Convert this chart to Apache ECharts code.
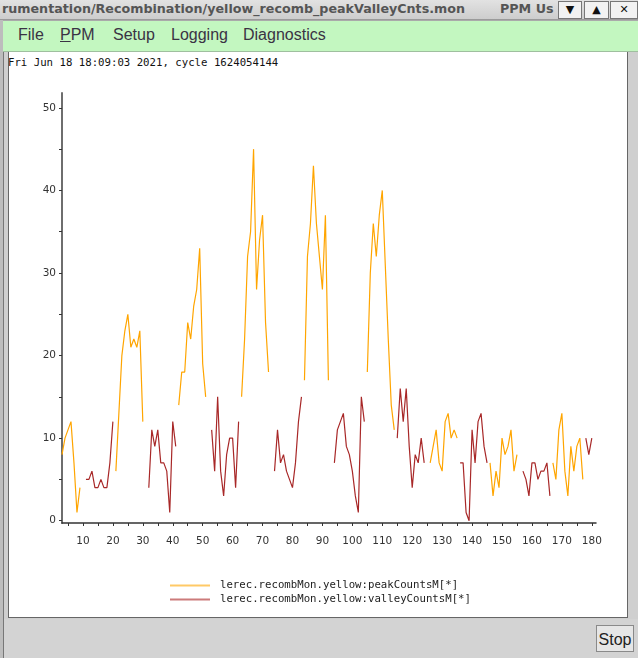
<!DOCTYPE html>
<html>
<head>
<meta charset="utf-8">
<script src="https://cdn.jsdelivr.net/npm/echarts@6/dist/echarts.min.js"></script>
<style>
  html, body { margin: 0; padding: 0; }
  body { width: 638px; height: 658px; position: relative; overflow: hidden; background: #cfcfcf; }
  .abs { position: absolute; }
  #titlebar { left: 0; top: 0; width: 638px; height: 19px; background: linear-gradient(#e2e2e2, #cdcdcd); border-bottom: 1px solid #9a9a9a; overflow: hidden; }
  #title { left: 2px; top: 1px; font: bold 12.7px "DejaVu Sans"; color: #555; white-space: nowrap; }
  #ppmus { left: 500px; top: 1px; font: bold 12.7px "DejaVu Sans"; color: #555; white-space: nowrap; }
  .wbtn { top: 1px; height: 16px; background: #f2f2f2; border: 1px solid #777; font: bold 11px "DejaVu Sans"; color: #111; text-align: center; line-height: 16px; }
  #menubar { left: 3px; top: 20px; width: 635px; height: 30px; background: #c3f7c0; border-top: 1px solid #aaa; border-bottom: 1px solid #9fbf9f; }
  .menu { top: 26px; font: 16px "Liberation Sans"; color: #3a3344; white-space: nowrap; }
  #leftframe { left: 0; top: 20px; width: 3px; height: 638px; background: #bdbdbd; border-right: 1px solid #777; }
  #content { left: 8px; top: 52px; width: 620px; height: 566px; background: #fff; border-left: 1px solid #666; border-right: 1px solid #666; border-bottom: 1px solid #666; box-sizing: border-box; }
  #stamp { left: 8px; top: 56px; font: 10.7px "DejaVu Sans Mono"; color: #111; white-space: nowrap; }
  #bottombar { left: 4px; top: 619px; width: 634px; height: 39px; background: #d3d3d3; }
  #stop { left: 596px; top: 625px; width: 38px; height: 27px; background: #e6e6e6; border: 1px solid #8a8a8a; font: 16px "Liberation Sans"; color: #222; text-align: center; line-height: 27px; box-sizing: border-box; }
  #chart { left: 0; top: 0; width: 638px; height: 658px; }
</style>
</head>
<body>
<div id="leftframe" class="abs"></div>
<div id="titlebar" class="abs">
  <div id="title" class="abs">rumentation/Recombination/yellow_recomb_peakValleyCnts.mon</div>
  <div id="ppmus" class="abs">PPM Us</div>
</div>
<div class="abs wbtn" style="left:558px;width:22px;">&#9660;</div>
<div class="abs wbtn" style="left:584px;width:23px;">&#9650;</div>
<div class="abs wbtn" style="left:610px;width:26px;">&#10005;</div>
<div id="menubar" class="abs"></div>
<div class="abs menu" style="left:18px;">File</div>
<div class="abs menu" style="left:60px;"><span style="text-decoration:underline;">P</span>PM</div>
<div class="abs menu" style="left:113px;">Setup</div>
<div class="abs menu" style="left:171px;">Logging</div>
<div class="abs menu" style="left:243px;">Diagnostics</div>
<div id="content" class="abs"></div>
<div id="stamp" class="abs">Fri Jun 18 18:09:03 2021, cycle 1624054144</div>
<div id="bottombar" class="abs"></div>
<div id="stop" class="abs">Stop</div>
<div id="chart" class="abs"></div>
<script>
// ---- data (index runs from xStart) ----
const xStart = 3;
const N = null;
const peakName = 'lerec.recombMon.yellow:peakCountsM[*]';
const valleyName = 'lerec.recombMon.yellow:valleyCountsM[*]';
const peakCounts = [
  8,10,11,12,7,1,4,                       // 3-9
  N,N,N,N,N,N,N,N,N,N,N,                  // 10-20
  6,13,20,23,25,21,22,21,23,12,           // 21-30
  N,N,N,N,N,N,N,N,N,N,N,                  // 31-41
  14,18,18,24,22,26,28,33,19,15,          // 42-51
  N,N,N,N,N,N,N,N,N,N,N,                  // 52-62
  15,22,32,35,45,28,34,37,24,18,          // 63-72
  N,N,N,N,N,N,N,N,N,N,N,                  // 73-83
  17,32,36,43,36,32,28,37,17,             // 84-92
  N,N,N,N,N,N,N,N,N,N,N,N,                // 93-104
  18,30,36,32,37,40,31,22,14,11,          // 105-114
  N,N,N,N,N,N,N,N,N,N,N,                  // 115-125
  7,9,11,7,6,12,13,10,11,10,              // 126-135
  N,N,N,N,N,N,N,N,N,N,                    // 136-145
  7,3,6,4,10,8,9,11,6,8,                  // 146-155
  N,N,N,N,N,N,N,N,N,N,N,                  // 156-166
  7,5,11,13,6,3,9,6,9,10,5,               // 167-177
  N,N,N,N                                 // 178-181
];
const valleyCounts = [
  N,N,N,N,N,N,N,N,                        // 3-10
  5,5,6,4,4,5,4,4,7,12,                   // 11-20
  N,N,N,N,N,N,N,N,N,N,N,                  // 21-31
  4,11,9,11,7,7,6,1,12,9,                 // 32-41
  N,N,N,N,N,N,N,N,N,N,N,                  // 42-52
  11,6,15,6,3,8,10,10,4,12,               // 53-62
  N,N,N,N,N,N,N,N,N,N,N,                  // 63-73
  6,11,7,8,6,5,4,7,12,15,                 // 74-83
  N,N,N,N,N,N,N,N,N,N,                    // 84-93
  7,11,12,13,9,8,6,3,1,15,12,             // 94-104
  N,N,N,N,N,N,N,N,N,N,                    // 105-114
  10,16,12,16,9,4,8,7,10,7,               // 115-124
  N,N,N,N,N,N,N,N,N,N,N,                  // 125-135
  7,7,1,0,11,7,12,13,9,7,                 // 136-145
  N,N,N,N,N,N,N,N,N,N,N,                  // 146-156
  6,5,3,7,7,5,6,6,7,3,                    // 157-166
  N,N,N,N,N,N,N,N,N,N,N,                  // 167-177
  10,8,10,                                // 178-180
  N                                       // 181
];
const xTicks = [5,10,15,20,25,30,35,40,45,50,55,60,65,70,75,80,85,90,95,100,105,110,115,120,125,130,135,140,145,150,155,160,165,170,175,180];
const xLabels = [10,20,30,40,50,60,70,80,90,100,110,120,130,140,150,160,170,180];
const yTicks = [0,5,10,15,20,25,30,35,40,45,50];
const yLabels = [0,10,20,30,40,50];

const toPairs = arr => arr.map((v, i) => [xStart + i, v]);

const chart = echarts.init(document.getElementById('chart'), null, { renderer: 'canvas' });
chart.setOption({
  backgroundColor: 'transparent',
  animation: false,
  grid: { left: 62, right: 42, top: 93, bottom: 135 },
  xAxis: {
    type: 'value', min: 3, max: 181.4,
    axisLine: { onZero: false, lineStyle: { color: '#333', width: 1.5 } },
    axisTick: { show: true, length: 3, lineStyle: { color: '#333' }, customValues: xTicks },
    axisLabel: { customValues: xLabels, color: '#333', fontFamily: 'DejaVu Sans', fontSize: 10.5, margin: 13 },
    splitLine: { show: false }
  },
  yAxis: {
    type: 'value', min: -0.28, max: 51.8,
    axisLine: { show: true, lineStyle: { color: '#6e6e6e', width: 2 } },
    axisTick: { show: true, length: 3, lineStyle: { color: '#333' }, customValues: yTicks },
    axisLabel: { customValues: yLabels, color: '#333', fontFamily: 'DejaVu Sans', fontSize: 10.5, margin: 6 },
    splitLine: { show: false }
  },
  legend: {
    orient: 'vertical', left: 165, top: 575, itemWidth: 40, itemHeight: 2, itemGap: 3,
    icon: 'rect',
    textStyle: { fontFamily: 'DejaVu Sans Mono', fontSize: 10.7, color: '#222', padding: [0, 0, 0, 5] },
    data: [
      { name: peakName, itemStyle: { color: '#ffc966' } },
      { name: valleyName, itemStyle: { color: '#cc7b7b' } }
    ]
  },
  series: [
    { name: peakName, type: 'line', data: toPairs(peakCounts), symbol: 'none', connectNulls: false,
      lineStyle: { color: '#ffa500', width: 1.2 }, itemStyle: { color: '#ffa500' } },
    { name: valleyName, type: 'line', data: toPairs(valleyCounts), symbol: 'none', connectNulls: false,
      lineStyle: { color: '#a82828', width: 1.2 }, itemStyle: { color: '#a82828' } }
  ]
});
</script>
</body>
</html>
